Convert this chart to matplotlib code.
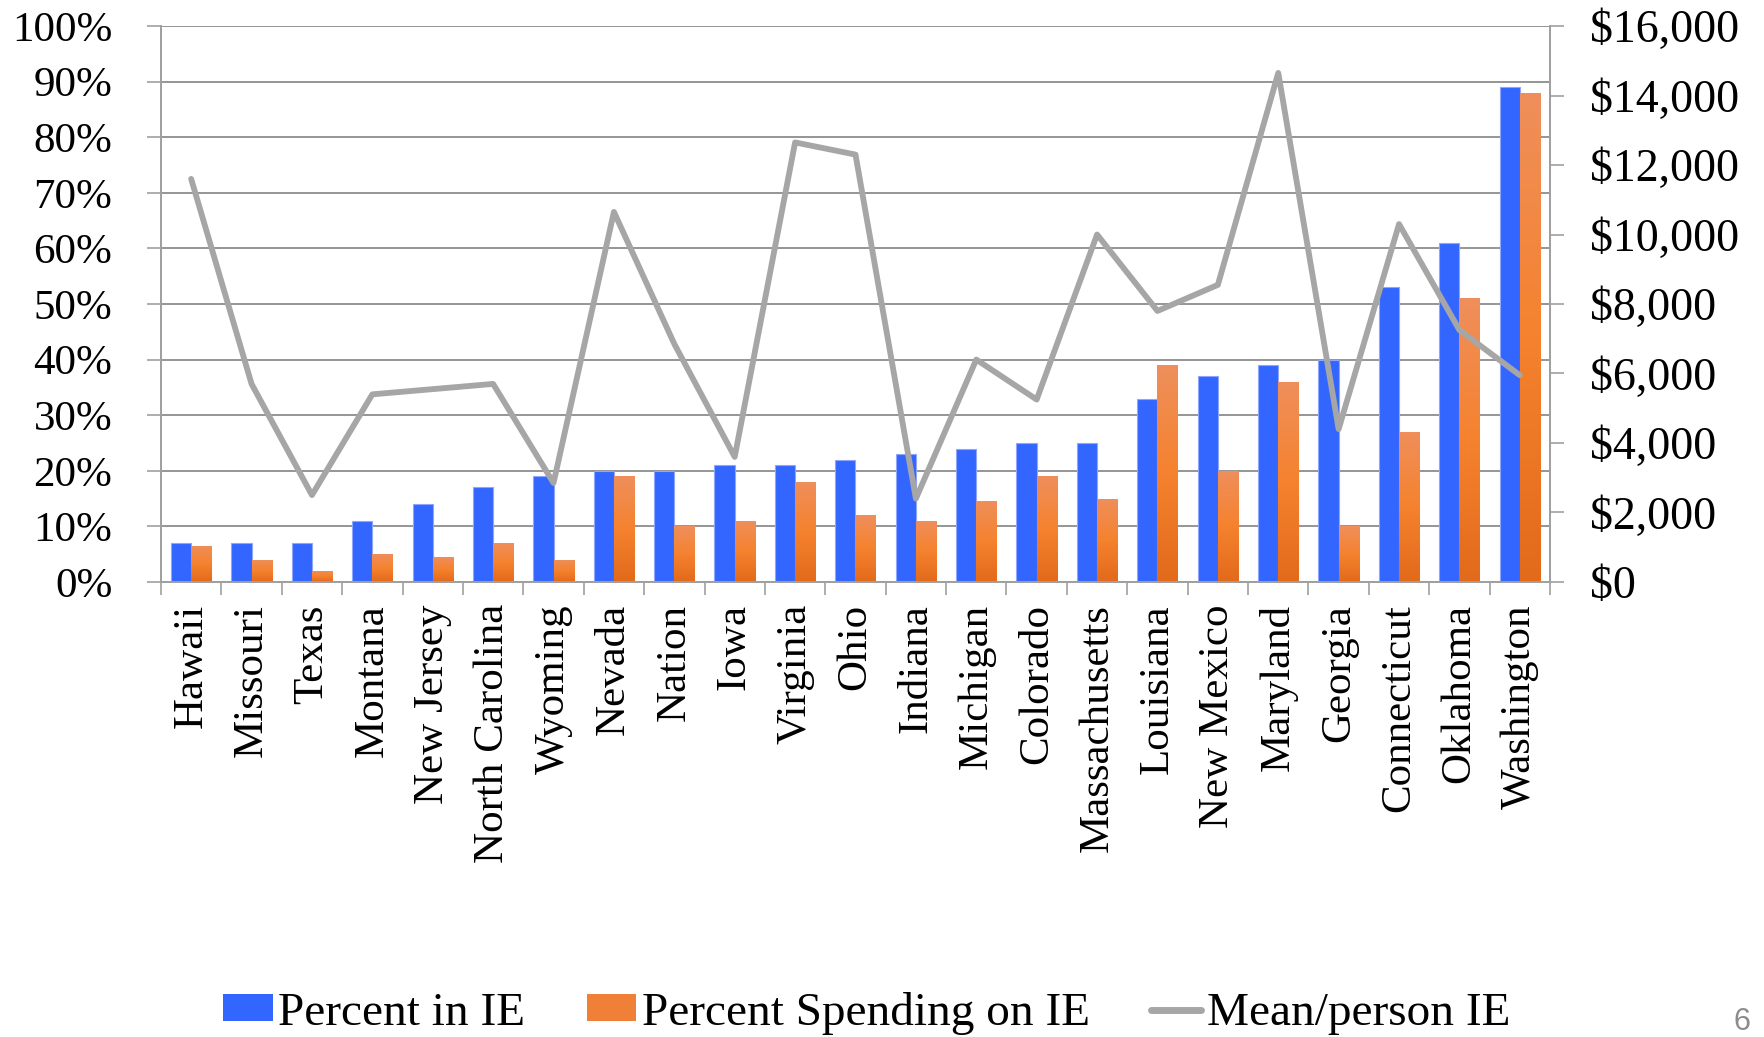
import numpy as np
import matplotlib
matplotlib.use("Agg")
from matplotlib import pyplot as plt
from matplotlib.colors import LinearSegmentedColormap
from matplotlib.lines import Line2D
from matplotlib.patches import Patch
from matplotlib.ticker import FuncFormatter, MultipleLocator

states = ["Hawaii", "Missouri", "Texas", "Montana", "New Jersey", "North Carolina",
          "Wyoming", "Nevada", "Nation", "Iowa", "Virginia", "Ohio", "Indiana",
          "Michigan", "Colorado", "Massachusetts", "Louisiana", "New Mexico",
          "Maryland", "Georgia", "Connecticut", "Oklahoma", "Washington"]
pct_in_ie = [7, 7, 7, 11, 14, 17, 19, 20, 20, 21, 21, 22, 23,
             24, 25, 25, 33, 37, 39, 40, 53, 61, 89]
pct_spending_ie = [6.5, 4, 2, 5, 4.5, 7, 4, 19, 10, 11, 18, 12, 11,
                   14.6, 19, 15, 39, 20, 36, 10, 27, 51, 88]
mean_per_person = [11600, 5700, 2500, 5400, 5550, 5700, 2850, 10650, 6850, 3600,
                   12650, 12300, 2400, 6400, 5250, 10000, 7800, 8550, 14650, 4400,
                   10300, 7250, 5950]

plt.rcParams["font.family"] = ["Liberation Serif", "DejaVu Serif"]

BLUE = "#3366FF"
GREY = "#A6A6A6"
orange_cmap = LinearSegmentedColormap.from_list(
    "orange_bar", ["#E26A1B", "#F5822E", "#EF8F5C"])

fig = plt.figure(figsize=(17.65, 10.37), dpi=100)
ax = fig.add_axes([0.0912, 0.4388, 0.787, 0.5361])

x = np.arange(len(states))
bw = 0.335

blue_bars = ax.bar(x - bw / 2, pct_in_ie, width=bw, color=BLUE,
                   edgecolor="#8FA6FF", linewidth=0.8, zorder=2)
orange_bars = ax.bar(x + bw / 2, pct_spending_ie, width=bw, color="none",
                     linewidth=0, zorder=2)

# vertical gradient inside each orange bar
grad = np.linspace(0, 1, 256).reshape(-1, 1)
for patch in orange_bars:
    x0, y0 = patch.get_x(), patch.get_y()
    w, h = patch.get_width(), patch.get_height()
    im = ax.imshow(grad, extent=[x0, x0 + w, y0, y0 + h], origin="lower",
                   aspect="auto", cmap=orange_cmap, interpolation="bilinear",
                   zorder=2)
    im.set_clip_path(patch)

ax.set_xlim(-0.5, len(states) - 0.5)
ax.set_ylim(0, 100)
ax.yaxis.set_major_locator(MultipleLocator(10))
ax.yaxis.set_major_formatter(FuncFormatter(lambda v, p: f"{v:.0f}%"))
ax.grid(axis="y", color="#8C8C8C", linewidth=1.3)
ax.set_axisbelow(True)

ax.set_xticks(x)
ax.set_xticklabels(states, rotation=90, fontsize=31)
ax.set_xticks(np.arange(len(states) + 1) - 0.5, minor=True)
ax.tick_params(axis="x", which="major", length=0, pad=16)
ax.tick_params(axis="x", which="minor", length=9, width=1.2, color="#A0A0A0")
ax.tick_params(axis="y", labelsize=31, length=10, width=1.2, color="#A0A0A0", pad=25)

for side in ["left", "right", "bottom", "top"]:
    ax.spines[side].set_color("#A0A0A0")
    ax.spines[side].set_linewidth(1.3)
ax.spines["top"].set_visible(False)

ax2 = ax.twinx()
ax2.plot(x, mean_per_person, color=GREY, linewidth=4.2,
         solid_joinstyle="round", solid_capstyle="round", zorder=3)
ax2.set_ylim(0, 16000)
ax2.yaxis.set_major_locator(MultipleLocator(2000))
ax2.yaxis.set_major_formatter(FuncFormatter(lambda v, p: f"${v:,.0f}"))
ax2.tick_params(axis="y", labelsize=33, length=10, width=1.2, color="#A0A0A0", pad=19)
for side in ["left", "right", "bottom", "top"]:
    ax2.spines[side].set_color("#A0A0A0")
    ax2.spines[side].set_linewidth(1.3)
ax2.spines["top"].set_visible(False)

handles = [Patch(facecolor=BLUE, edgecolor="none"),
           Patch(facecolor="#F07F38", edgecolor="none"),
           Line2D([0], [0], color=GREY, linewidth=5, solid_capstyle="round")]
labels = ["Percent in IE", "Percent Spending on IE", "Mean/person IE"]
fig.legend(handles, labels, loc="center", bbox_to_anchor=(0.491, 0.023),
           ncol=3, frameon=False, fontsize=34, handlelength=1.05,
           handleheight=0.5, handletextpad=0.12, columnspacing=1.3,
           borderpad=0, borderaxespad=0)

fig.text(0.987, 0.0, "6", color="#8C8C8C", fontsize=22,
         family="Liberation Sans", ha="center", va="bottom")

fig.savefig("out.png", dpi=100)
